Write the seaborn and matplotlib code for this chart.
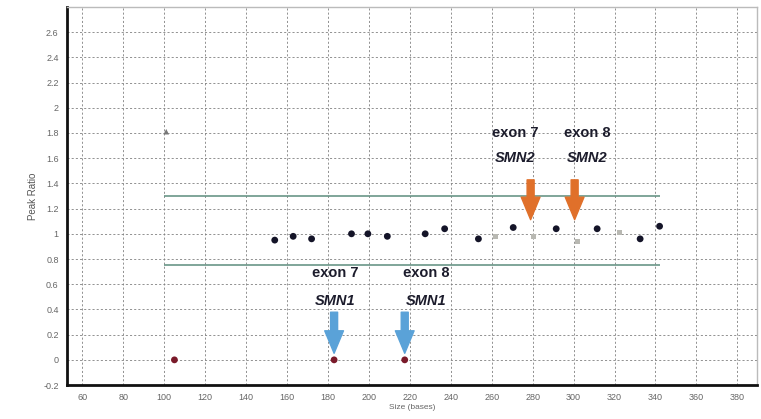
import matplotlib
matplotlib.use('Agg')
import matplotlib.pyplot as plt
import seaborn as sns
import pandas as pd

# --- Data ---
size_ctrl = [154, 163, 172, 191.5, 199.5, 209, 227.5, 237, 253.5, 270.5, 291.5, 311.5, 332.5, 342]
ratio_ctrl = [0.95, 0.98, 0.96, 1.00, 1.00, 0.98, 1.00, 1.04, 0.96, 1.05, 1.04, 1.04, 0.96, 1.06]

size_faint = [262, 280.5, 302, 322.5]
ratio_faint = [0.98, 0.98, 0.94, 1.01]

size_zero = [105, 183, 217.5]
ratio_zero = [0.0, 0.0, 0.0]

size_peak = [101]
ratio_peak = [1.81]

limit_lo, limit_hi = 0.75, 1.30
limit_x = [100, 342]

smn1_x = [183, 217.5]
smn1_text_x = [183.5, 228]
smn1_labels = ['exon 7', 'exon 8']
smn2_x = [279, 300.5]
smn2_text_x = [271.5, 306.5]
smn2_labels = ['exon 7', 'exon 8']

x_ticks = list(range(60, 381, 20))
y_ticks = [-0.2, 0, 0.2, 0.4, 0.6, 0.8, 1, 1.2, 1.4, 1.6, 1.8, 2, 2.2, 2.4, 2.6]
y_tick_labels = ['-0.2', '0', '0.2', '0.4', '0.6', '0.8', '1', '1.2', '1.4',
                 '1.6', '1.8', '2', '2.2', '2.4', '2.6']

# --- Style ---
sns.set_style('white')
plt.rcParams['font.family'] = ['Liberation Sans', 'DejaVu Sans']

fig = plt.figure(figsize=(7.61, 4.19), dpi=100)
ax = fig.add_axes([0.088, 0.081, 0.9065, 0.9025])

ctrl = pd.DataFrame({'size': size_ctrl, 'ratio': ratio_ctrl})
faint = pd.DataFrame({'size': size_faint, 'ratio': ratio_faint})
zero = pd.DataFrame({'size': size_zero, 'ratio': ratio_zero})
peak = pd.DataFrame({'size': size_peak, 'ratio': ratio_peak})

# thresholds
ax.hlines([limit_lo, limit_hi], limit_x[0], limit_x[1], color='#6a9688', lw=1.2, zorder=2)

sns.scatterplot(data=faint, x='size', y='ratio', marker='s', s=12, color='#b8b8b2',
                edgecolor='none', ax=ax, zorder=3)
sns.scatterplot(data=ctrl, x='size', y='ratio', marker='o', s=24, color='#141428',
                edgecolor='none', ax=ax, zorder=4)
sns.scatterplot(data=zero, x='size', y='ratio', marker='o', s=24, color='#7a1a2a',
                edgecolor='none', ax=ax, zorder=4)
sns.scatterplot(data=peak, x='size', y='ratio', marker='^', s=16, color='#777777',
                edgecolor='none', ax=ax, zorder=4)

arrow_style = 'simple,head_length=0.9,head_width=0.75,tail_width=0.28'

# arrows + labels
for x, tx, lab in zip(smn1_x, smn1_text_x, smn1_labels):
    ax.annotate('', xy=(x, 0.03), xytext=(x, 0.40),
                arrowprops=dict(arrowstyle=arrow_style, color='#5aa2d8', mutation_scale=18))
    ax.text(tx, 0.69, lab, ha='center', va='center', fontsize=10.5,
            fontweight='bold', color='#1c1c2c')
    ax.text(tx, 0.47, 'SMN1', ha='center', va='center', fontsize=10.5,
            fontweight='bold', fontstyle='italic', color='#1c1c2c')

for x, tx, lab in zip(smn2_x, smn2_text_x, smn2_labels):
    ax.annotate('', xy=(x, 1.09), xytext=(x, 1.45),
                arrowprops=dict(arrowstyle=arrow_style, color='#e0702a', mutation_scale=18))
    ax.text(tx, 1.80, lab, ha='center', va='center', fontsize=10.5,
            fontweight='bold', color='#1c1c2c')
    ax.text(tx, 1.60, 'SMN2', ha='center', va='center', fontsize=10.5,
            fontweight='bold', fontstyle='italic', color='#1c1c2c')

# axes
ax.set_xlim(52.5, 389.5)
ax.set_ylim(-0.2, 2.8)
ax.set_xticks(x_ticks)
ax.set_yticks(y_ticks)
ax.set_yticklabels(y_tick_labels)
ax.tick_params(axis='both', labelsize=6.5, labelcolor='#666666', length=0, pad=6)
ax.grid(True, color='#808080', linestyle=(0, (2.5, 2.5)), linewidth=0.6)
ax.set_axisbelow(True)

ax.set_xlabel('Size (bases)', fontsize=6, color='#666666', labelpad=1)
ax.set_ylabel('Peak Ratio', fontsize=7, color='#555555', labelpad=4)

for side in ['left', 'bottom']:
    ax.spines[side].set_color('#111111')
    ax.spines[side].set_linewidth(2)
for side in ['top', 'right']:
    ax.spines[side].set_color('#bbbbbb')
    ax.spines[side].set_linewidth(1)

fig.savefig('out.png', dpi=100)
